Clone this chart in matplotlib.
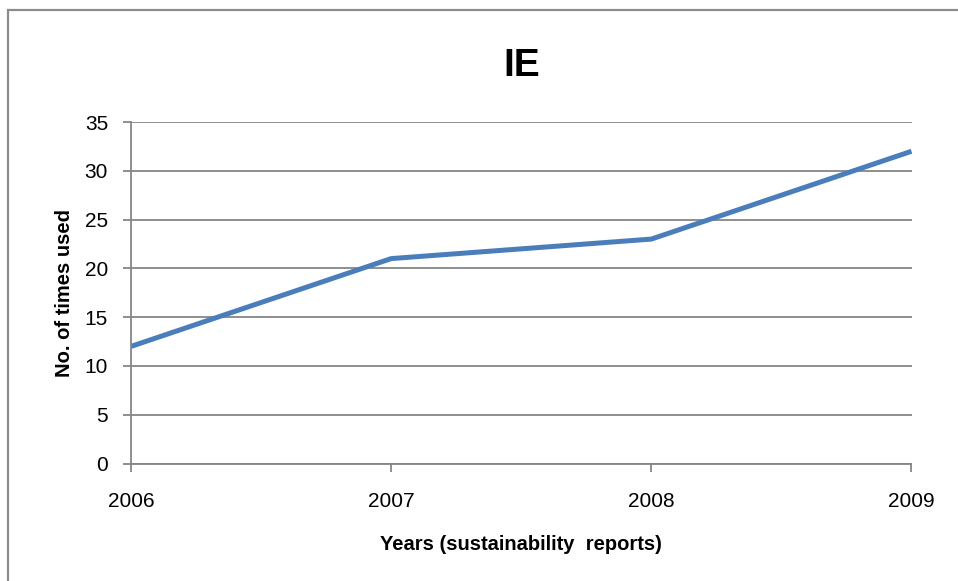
import matplotlib.pyplot as plt
from matplotlib.patches import Rectangle

years = [2006, 2007, 2008, 2009]
times_used = [12, 21, 23, 32]
y_ticks = [0, 5, 10, 15, 20, 25, 30, 35]

plt.rcParams['font.family'] = ['Liberation Sans', 'DejaVu Sans']

fig = plt.figure(figsize=(9.58, 5.81), dpi=100)
# chart area border (only top/left visible in the crop)
fig.patches.append(Rectangle((7.5 / 958, -0.1), 1.2, 1 - 9.5 / 581 + 0.1,
                             transform=fig.transFigure, fill=False,
                             edgecolor='#8c8c8c', linewidth=1.6))

ax = fig.add_axes([131 / 958, 1 - 463.5 / 581, (911.5 - 131) / 958, (463.5 - 122) / 581])
ax.plot(years, times_used, color='#4a7ebb', linewidth=3.6, solid_capstyle='butt')

ax.set_xlim(years[0], years[-1])
ax.set_ylim(0, 35)
ax.set_xticks(years)
ax.set_yticks(y_ticks)
ax.grid(axis='y', color='#868686', linewidth=1.3)
ax.set_axisbelow(True)
for s in ['top', 'right']:
    ax.spines[s].set_visible(False)
for s in ['left', 'bottom']:
    ax.spines[s].set_color('#868686')
    ax.spines[s].set_linewidth(1.3)
ax.tick_params(direction='out', length=5.5, width=1.3, color='#868686',
               labelsize=15, labelcolor='black')
ax.tick_params(axis='y', pad=11)
ax.tick_params(axis='x', pad=15)

ax.set_title('IE', fontsize=28, fontweight='bold', pad=33)
ax.set_xlabel('Years (sustainability  reports)', fontsize=14.5, fontweight='bold', labelpad=17)
ax.set_ylabel('No. of times used', fontsize=14.5, fontweight='bold', labelpad=8)

fig.savefig('out.png', dpi=100)
